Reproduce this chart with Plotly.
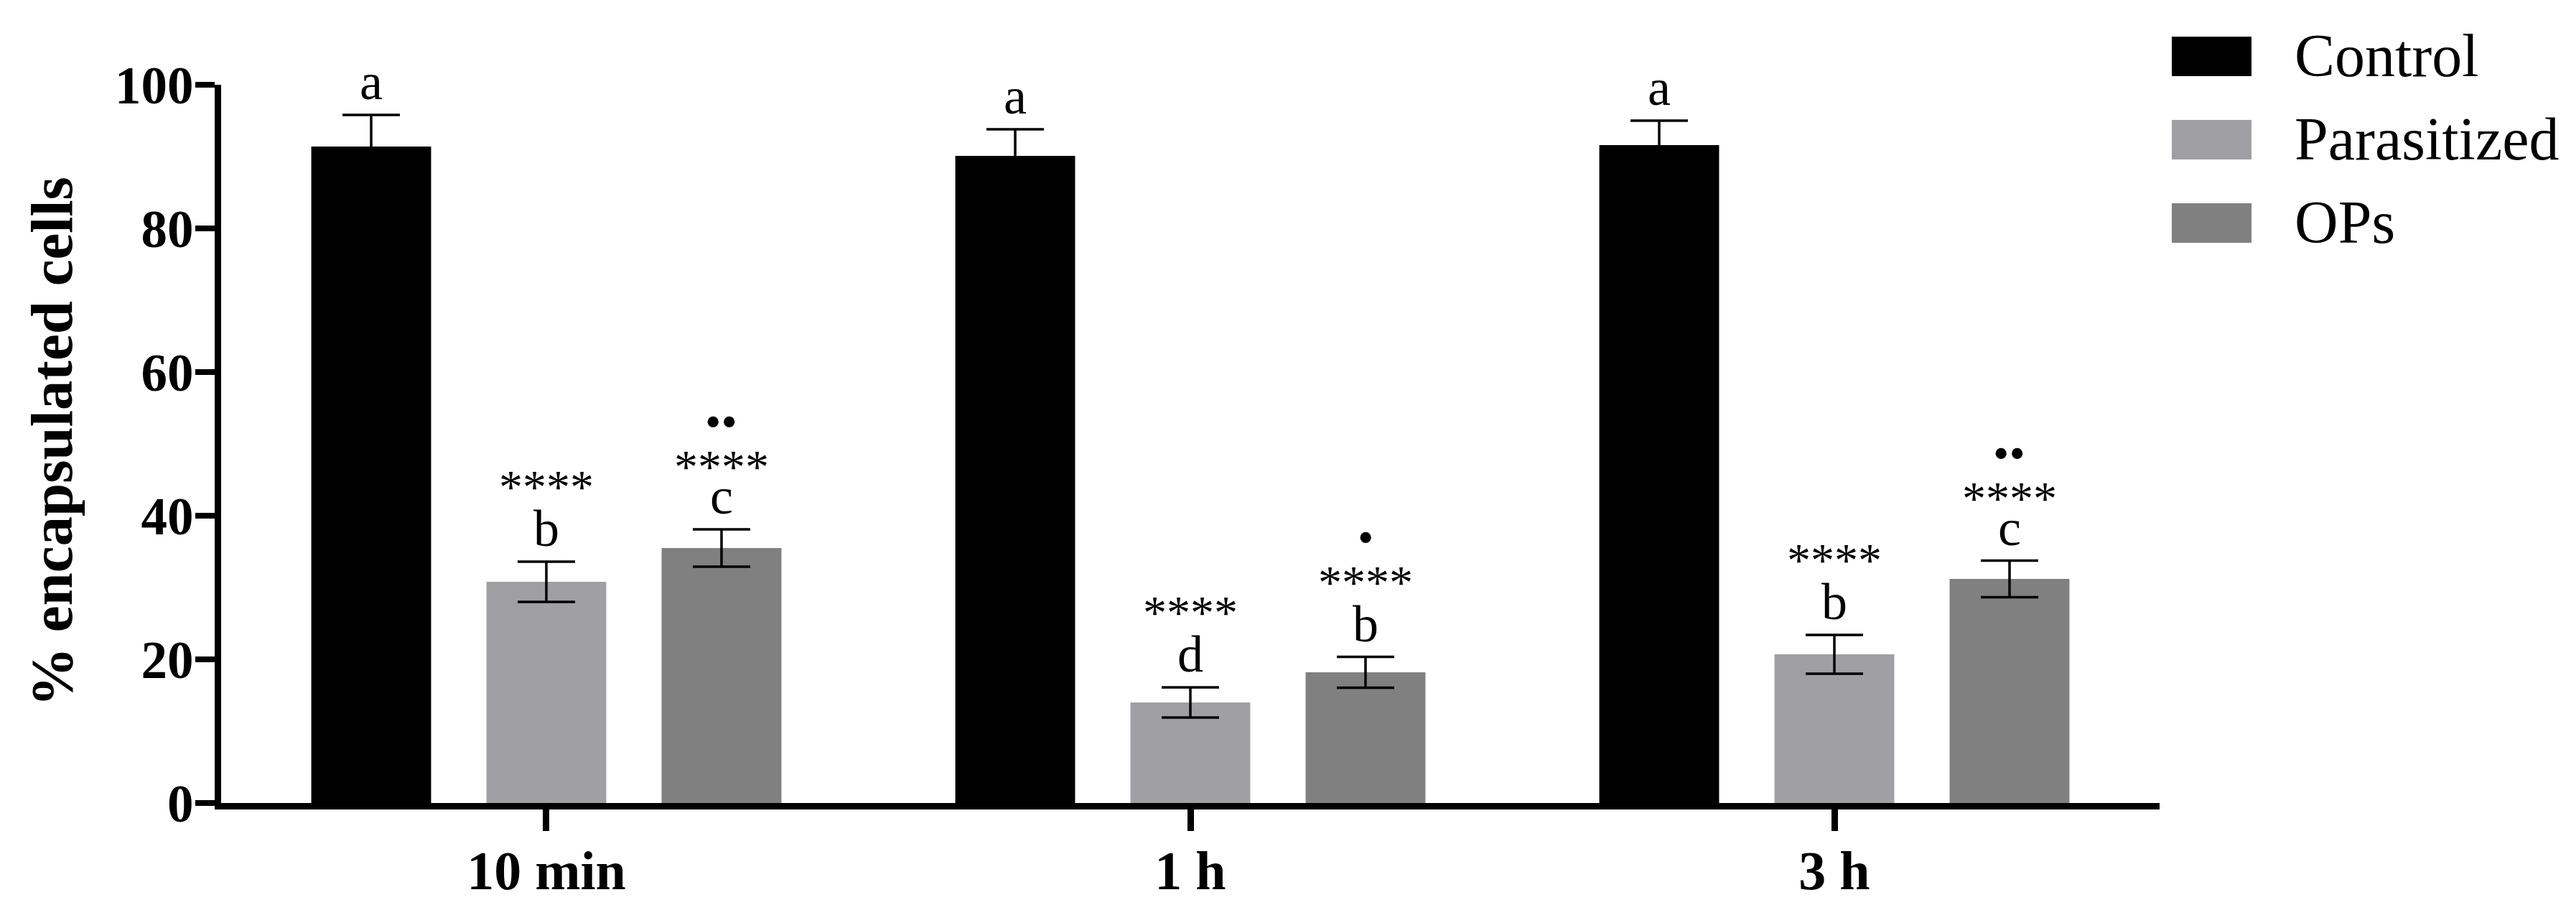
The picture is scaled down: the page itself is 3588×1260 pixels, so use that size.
import plotly.graph_objects as go

# ---------------- data ----------------
categories = ["10 min", "1 h", "3 h"]
series_names = ["Control", "Parasitized", "OPs"]
control_vals = [91.4, 90.1, 91.6]
control_err = [4.4, 3.7, 3.4]
parasitized_vals = [30.8, 14.0, 20.7]
parasitized_err = [2.8, 2.1, 2.7]
ops_vals = [35.5, 18.2, 31.2]
ops_err = [2.6, 2.15, 2.55]

# significance labels per group (Control, Parasitized, OPs)
letters = [["a", "b", "c"], ["a", "d", "b"], ["a", "b", "c"]]
stars = [["", "****", "****"], ["", "****", "****"], ["", "****", "****"]]
dots = [["", "", "\u2022\u2022"], ["", "", "\u2022"], ["", "", "\u2022\u2022"]]

y_ticks = [0, 20, 40, 60, 80, 100]

# ---------------- style ----------------
colors = ["#000000", "#A0A0A4", "#808080"]
SERIF = "Liberation Serif, Times New Roman, serif"
W, H = 3588, 1260
ML, MR, MT, MB = 300, 588, 110, 150
PW = W - ML - MR
PH = H - MT - MB
XR = [-0.505, 2.505]
BARGAP = 0.184
BARGROUPGAP = 0.316

vals = [control_vals, parasitized_vals, ops_vals]
errs = [control_err, parasitized_err, ops_err]

fig = go.Figure()
for name, v, e, c in zip(series_names, vals, errs, colors):
    fig.add_trace(go.Bar(
        x=categories, y=v, name=name,
        marker=dict(color=c, line=dict(width=0)),
        error_y=dict(type="data", array=e, visible=True, color="#000000",
                     thickness=3.5, width=40),
        showlegend=False,
    ))

# pixel offset of each bar within a group
px_per_cat = PW / (XR[1] - XR[0])
slot = (1 - BARGAP) / 3 * px_per_cat
offsets = [-slot, 0, slot]

annotations = []
for gi, cat in enumerate(categories):
    for si in range(3):
        top = vals[si][gi] + errs[si][gi]
        L = letters[gi][si]
        has_asc = L in ("b", "d")
        annotations.append(dict(
            x=cat, y=top, xref="x", yref="y", text=L, showarrow=False,
            xshift=offsets[si], yshift=4, yanchor="bottom", xanchor="center",
            font=dict(family=SERIF, size=72, color="#000")))
        if stars[gi][si]:
            d_st = 113 if has_asc else 96
            annotations.append(dict(
                x=cat, y=top, xref="x", yref="y", text=stars[gi][si], showarrow=False,
                xshift=offsets[si], yshift=d_st - 47, yanchor="bottom", xanchor="center",
                font=dict(family=SERIF, size=66, color="#000")))
            if dots[gi][si]:
                annotations.append(dict(
                    x=cat, y=top, xref="x", yref="y", text=dots[gi][si], showarrow=False,
                    xshift=offsets[si], yshift=d_st + 52 - 36, yanchor="bottom", xanchor="center",
                    font=dict(family=SERIF, size=64, color="#000")))

# y-axis title
annotations.append(dict(
    x=(64 - ML) / PW, y=(MT + PH - 607) / PH, xref="paper", yref="paper",
    text="<b>% encapsulated cells</b>", textangle=-90, showarrow=False,
    xanchor="center", yanchor="middle",
    font=dict(family=SERIF, size=83, color="#000")))

# manual legend
shapes = []
legend_rows = [70, 186, 302]
for name, c, cy in zip(series_names, colors, legend_rows):
    shapes.append(dict(type="rect", xref="paper", yref="paper",
                       x0=(3017 - ML) / PW, x1=(3128 - ML) / PW,
                       y0=(MT + PH - (cy - 27)) / PH, y1=(MT + PH - (cy + 28)) / PH,
                       fillcolor=c, line=dict(width=0)))
    annotations.append(dict(x=(3186 - ML) / PW, y=(MT + PH - cy) / PH,
                            xref="paper", yref="paper", text=name, showarrow=False,
                            xanchor="left", yanchor="middle",
                            font=dict(family=SERIF, size=84, color="#000")))

fig.update_layout(
    width=W, height=H,
    margin=dict(l=ML, r=MR, t=MT, b=MB, autoexpand=False),
    paper_bgcolor="white", plot_bgcolor="white",
    barmode="group", bargap=BARGAP, bargroupgap=BARGROUPGAP,
    showlegend=False,
    annotations=annotations, shapes=shapes,
    xaxis=dict(range=XR, showline=True, linecolor="#000", linewidth=9,
               ticks="outside", ticklen=30, tickwidth=9, tickcolor="#000",
               ticklabelstandoff=-10,
               showgrid=False, zeroline=False,
               tickfont=dict(family=SERIF, size=76, color="#000", weight="bold")),
    yaxis=dict(range=[0, 100], tickvals=y_ticks, ticktext=[str(t) for t in y_ticks],
               showline=True, linecolor="#000", linewidth=9,
               ticks="outside", ticklen=27, tickwidth=8, tickcolor="#000",
               ticklabelstandoff=-12,
               showgrid=False, zeroline=False,
               tickfont=dict(family=SERIF, size=73, color="#000", weight="bold")),
)

fig.write_html("out.html")
